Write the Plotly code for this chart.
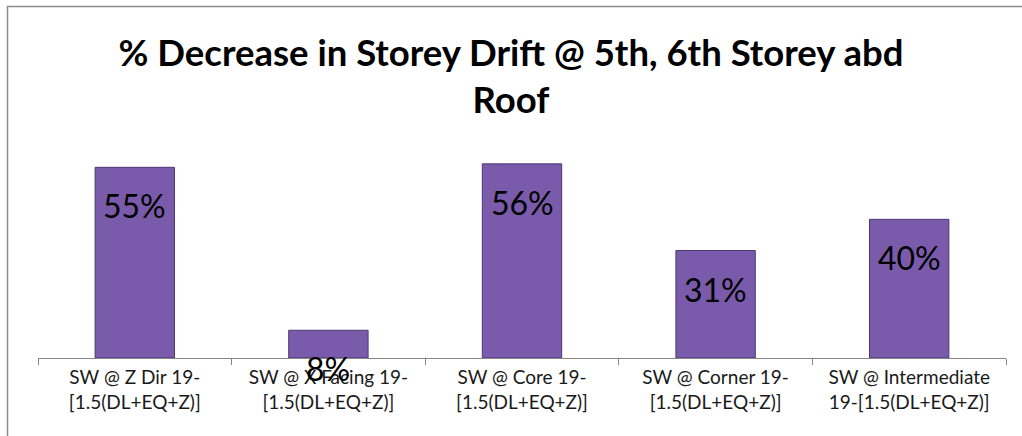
import plotly.graph_objects as go

categories = [
    "SW @ Z Dir 19-<br>[1.5(DL+EQ+Z)]",
    "SW @ X Facing 19-<br>[1.5(DL+EQ+Z)]",
    "SW @ Core 19-<br>[1.5(DL+EQ+Z)]",
    "SW @ Corner 19-<br>[1.5(DL+EQ+Z)]",
    "SW @ Intermediate<br>19-[1.5(DL+EQ+Z)]",
]
values = [0.55, 0.08, 0.56, 0.31, 0.40]
labels = ["55%", "8%", "56%", "31%", "40%"]
title_text = "% Decrease in Storey Drift @ 5th, 6th Storey abd<br>Roof"

W, H = 1022, 436
L, R, T, B = 38, 16, 150, 78
pw, ph = W - L - R, H - T - B

fig = go.Figure()
fig.add_trace(go.Bar(
    x=categories, y=values, width=0.41,
    marker=dict(color="#7a5bab", line=dict(color="#4d3774", width=1)),
    hoverinfo="skip",
))

for c, v, t in zip(categories, values, labels):
    fig.add_annotation(x=c, y=v, text=t, showarrow=False, yanchor="top",
                       yshift=-17, font=dict(family="Lato", size=32, color="#000000"))

# outer chart border (extends beyond window on right/bottom)
x0 = (7.5 - L) / pw
y1 = (H - B - 6.5) / ph
fig.add_shape(type="rect", xref="paper", yref="paper", x0=x0, x1=1.2, y0=-1, y1=y1,
              line=dict(color="#8c8c8c", width=1.5), fillcolor="rgba(0,0,0,0)", layer="below")

fig.update_layout(
    width=W, height=H,
    margin=dict(l=L, r=R, t=T, b=B),
    paper_bgcolor="white", plot_bgcolor="white",
    showlegend=False,
    title=dict(text=title_text, x=(511 - L) / pw, xref="paper", xanchor="center",
               y=1 - 66 / H, yanchor="middle",
               font=dict(family="Lato", size=36.5, color="#000000", weight="bold")),
    xaxis=dict(showline=True, linecolor="#868686", linewidth=1,
               ticks="outside", tickson="boundaries", ticklen=6, tickcolor="#868686",
               tickfont=dict(family="Lato", size=19, color="#1a1a1a"),
               ticklabelstandoff=2, showgrid=False),
    yaxis=dict(range=[0, 0.6], visible=False, showgrid=False, zeroline=False),
    bargap=0.59,
)

fig.write_html("out.html", config={"displayModeBar": False},
               post_script="document.body.style.margin='0';document.body.style.overflow='hidden';")
